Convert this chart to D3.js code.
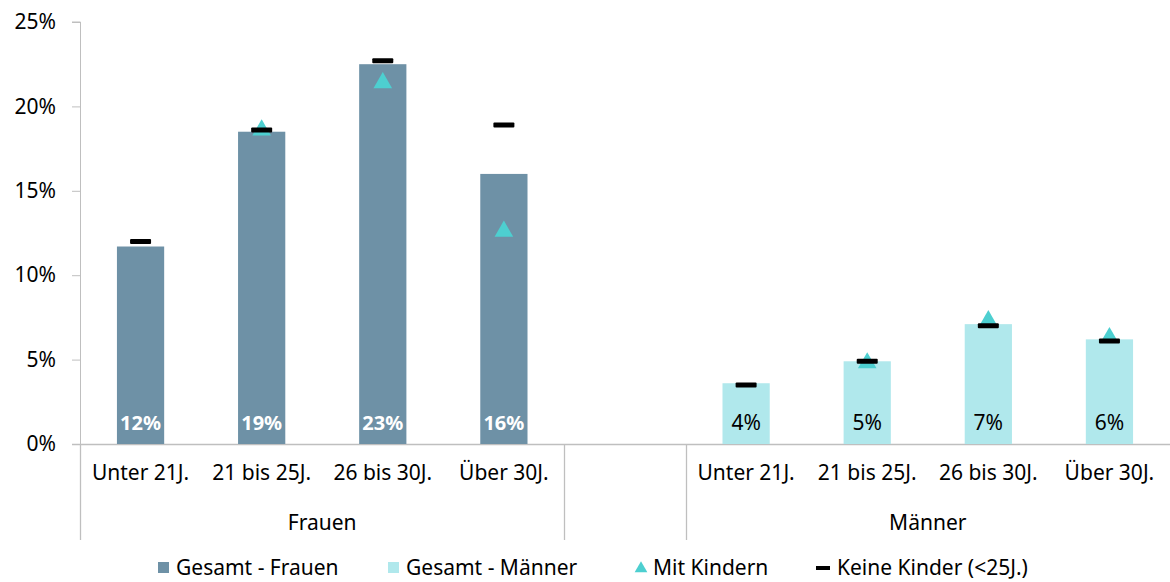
<!DOCTYPE html>
<html>
<head>
<meta charset="utf-8">
<script src="https://cdn.jsdelivr.net/npm/d3@7"></script>
<style>
  body { margin: 0; background: #fff; }
  text { font-family: "Noto Sans", "Open Sans", sans-serif; }
</style>
</head>
<body>
<script>
// --- Data ---
const ageGroups = ["Unter 21J.", "21 bis 25J.", "26 bis 30J.", "Über 30J."];
const groups = ["Frauen", "Männer"];
const gesamtFrauen = [11.7, 18.5, 22.5, 16.0];
const gesamtMaenner = [3.6, 4.9, 7.1, 6.2];
const mitKindernFrauen = [null, 18.6, 21.4, 12.6];
const mitKindernMaenner = [null, 4.8, 7.3, 6.3];
const keineKinderFrauen = [12.0, 18.6, 22.7, 18.9];
const keineKinderMaenner = [3.5, 4.9, 7.0, 6.1];
const yTicks = [0, 5, 10, 15, 20, 25];

// --- Constants ---
const W = 1170, H = 582;
const M = { left: 80, right: 0, top: 22, bottom: 138 };
const C_FRAUEN = "#6e91a6", C_MAENNER = "#b0e8ec", C_TRI = "#4dcfd0";
const FS = 21;

// slot keys: 4 Frauen, 1 empty, 4 Männer
const slots = [
  ...ageGroups.map((a, i) => ({ key: "F" + i, group: "Frauen", label: a, i })),
  { key: "gap", group: null },
  ...ageGroups.map((a, i) => ({ key: "M" + i, group: "Männer", label: a, i }))
];

const rows = slots.filter(s => s.group).map(s => {
  const f = s.group === "Frauen";
  return {
    key: s.key, group: s.group, label: s.label,
    total: (f ? gesamtFrauen : gesamtMaenner)[s.i],
    mit: (f ? mitKindernFrauen : mitKindernMaenner)[s.i],
    keine: (f ? keineKinderFrauen : keineKinderMaenner)[s.i]
  };
});

const svg = d3.select("body").append("svg")
  .attr("width", W).attr("height", H);

const x = d3.scaleBand()
  .domain(slots.map(s => s.key))
  .range([M.left, W - M.right])
  .paddingInner(0.61).paddingOuter(0.305);

const y = d3.scaleLinear().domain([0, 25]).range([H - M.bottom, M.top]);
const y0 = y(0);

// --- Y axis ---
const yAxis = svg.append("g")
  .attr("transform", `translate(${M.left},0)`)
  .call(d3.axisLeft(y).tickValues(yTicks).tickSize(8).tickPadding(16)
    .tickFormat(d => d + "%"));
yAxis.select(".domain").attr("stroke", "#bfbfbf").attr("d", `M-8,${y(25)}H0.5V${y0}`);
yAxis.selectAll(".tick line").attr("stroke", "#bfbfbf");
yAxis.selectAll(".tick text").attr("font-size", FS).attr("fill", "#000")
  .attr("font-family", "'Noto Sans', sans-serif");

// --- X axis line and separators ---
svg.append("line")
  .attr("x1", M.left - 8).attr("x2", W).attr("y1", y0 + 0.5).attr("y2", y0 + 0.5)
  .attr("stroke", "#bfbfbf").attr("stroke-width", 1.5);

const gap = (x.step() - x.bandwidth()) / 2;
const sepX = [M.left, x("gap") - gap, x("gap") + x.bandwidth() + gap];
svg.selectAll("line.sep").data(sepX).enter().append("line")
  .attr("class", "sep")
  .attr("x1", d => Math.round(d) + 0.5).attr("x2", d => Math.round(d) + 0.5)
  .attr("y1", y0).attr("y2", y0 + 96)
  .attr("stroke", "#bfbfbf").attr("stroke-width", 1.3);

// category labels
svg.selectAll("text.cat").data(rows).enter().append("text")
  .attr("class", "cat")
  .attr("x", d => x(d.key) + x.bandwidth() / 2)
  .attr("y", y0 + 36)
  .attr("text-anchor", "middle")
  .attr("font-size", FS)
  .attr("fill", "#000")
  .text(d => d.label);

// group labels
const groupCenters = [(sepX[0] + sepX[1]) / 2, (sepX[2] + W) / 2];
svg.selectAll("text.grp").data(groups).enter().append("text")
  .attr("class", "grp")
  .attr("x", (d, i) => groupCenters[i])
  .attr("y", y0 + 86)
  .attr("text-anchor", "middle")
  .attr("font-size", FS)
  .attr("fill", "#000")
  .text(d => d);

// --- Bars ---
svg.selectAll("rect.bar").data(rows).enter().append("rect")
  .attr("class", "bar")
  .attr("x", d => x(d.key)).attr("width", x.bandwidth())
  .attr("y", d => y(d.total)).attr("height", d => y0 - y(d.total))
  .attr("fill", d => d.group === "Frauen" ? C_FRAUEN : C_MAENNER);

// data labels
svg.selectAll("text.val").data(rows).enter().append("text")
  .attr("class", "val")
  .attr("x", d => x(d.key) + x.bandwidth() / 2)
  .attr("y", y0 - 14)
  .attr("text-anchor", "middle")
  .attr("font-size", d => d.group === "Frauen" ? 20 : FS)
  .attr("font-weight", d => d.group === "Frauen" ? "bold" : "normal")
  .attr("fill", d => d.group === "Frauen" ? "#fff" : "#000")
  .text(d => Math.round(d.total) + "%");

// --- Mit Kindern (triangles) ---
const tri = d3.symbol().type(d3.symbolTriangle).size(150);
svg.selectAll("path.mit").data(rows.filter(d => d.mit != null)).enter().append("path")
  .attr("class", "mit")
  .attr("d", tri)
  .attr("transform", d => `translate(${x(d.key) + x.bandwidth() / 2},${y(d.mit)})`)
  .attr("fill", C_TRI);

// --- Keine Kinder (dashes) ---
svg.selectAll("rect.keine").data(rows).enter().append("rect")
  .attr("class", "keine")
  .attr("x", d => x(d.key) + x.bandwidth() / 2 - 10.5)
  .attr("y", d => y(d.keine) - 2.5)
  .attr("width", 21).attr("height", 5).attr("rx", 1)
  .attr("fill", "#000");

// --- Legend ---
const legendY = 568;
const legend = svg.append("g").attr("class", "legend");
const legItems = [
  { name: "Gesamt - Frauen", type: "square", color: C_FRAUEN, x: 158 },
  { name: "Gesamt - Männer", type: "square", color: C_MAENNER, x: 388 },
  { name: "Mit Kindern", type: "tri", color: C_TRI, x: 635 },
  { name: "Keine Kinder (<25J.)", type: "dash", color: "#000", x: 816 }
];
legItems.forEach(it => {
  const g = legend.append("g");
  if (it.type === "square") {
    g.append("rect").attr("x", it.x).attr("y", legendY - 6).attr("width", 11).attr("height", 11)
      .attr("fill", it.color);
  } else if (it.type === "tri") {
    g.append("path").attr("d", d3.symbol().type(d3.symbolTriangle).size(70)())
      .attr("transform", `translate(${it.x + 6},${legendY + 0.5})`).attr("fill", it.color);
  } else {
    g.append("rect").attr("x", it.x).attr("y", legendY - 2).attr("width", 14).attr("height", 4)
      .attr("fill", it.color);
  }
  g.append("text")
    .attr("x", it.x + (it.type === "dash" ? 21 : 18))
    .attr("y", legendY)
    .attr("dy", "0.35em")
    .attr("font-size", FS)
    .attr("fill", "#000")
    .text(it.name);
});
</script>
</body>
</html>
